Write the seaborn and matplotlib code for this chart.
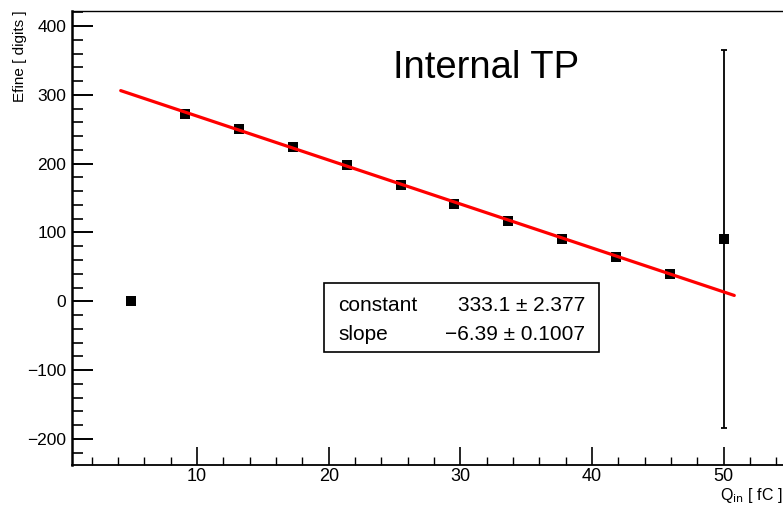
import numpy as np
import pandas as pd
import matplotlib
matplotlib.use("Agg")
import matplotlib.pyplot as plt
import seaborn as sns
from matplotlib.patches import Rectangle
from matplotlib.ticker import MultipleLocator

# data
q_in = [5.0, 9.1, 13.2, 17.3, 21.4, 25.5, 29.5, 33.6, 37.7, 41.8, 45.9, 50.0]
efine = [0, 272, 250, 225, 198, 169, 142, 116, 91, 65, 40, 91]
efine_err = [0, 2, 2, 2, 2, 2, 2, 2, 2, 2, 6, 275]

fit_const = 333.1
fit_const_err = 2.377
fit_slope = -6.39
fit_slope_err = 0.1007
fit_range = [4.2, 50.8]

df = pd.DataFrame({"q": q_in, "e": efine, "err": efine_err})
df_fit = pd.DataFrame({"q": fit_range})
df_fit["e"] = fit_const + fit_slope * df_fit["q"]

sns.set_style("ticks")
plt.rcParams["font.family"] = ["Liberation Sans", "DejaVu Sans"]
plt.rcParams["text.color"] = "black"
plt.rcParams["xtick.color"] = "black"
plt.rcParams["ytick.color"] = "black"
plt.rcParams["axes.edgecolor"] = "black"

W, H = 783, 508
fig = plt.figure(figsize=(W / 100, H / 100), dpi=100)
ax = fig.add_axes([72 / W, 1 - 465 / H, 1 - 72 / W, (465 - 11) / H])

ax.errorbar(df["q"], df["e"], yerr=df["err"], fmt="none", ecolor="black",
            elinewidth=1.3, capsize=2, capthick=1.3, zorder=2)
sns.scatterplot(data=df, x="q", y="e", marker="s", color="black", s=55,
                edgecolor="black", linewidth=0, ax=ax, zorder=3)
sns.lineplot(data=df_fit, x="q", y="e", color="red", linewidth=2.3, ax=ax, zorder=4)

ax.set_xlim(0.5, 54.5)
ax.set_ylim(-238, 422)
ax.set_xlabel("")
ax.set_ylabel("")

ax.xaxis.set_major_locator(MultipleLocator(10))
ax.xaxis.set_minor_locator(MultipleLocator(2))
ax.yaxis.set_major_locator(MultipleLocator(100))
ax.yaxis.set_minor_locator(MultipleLocator(20))
ax.tick_params(axis="x", which="major", direction="in", length=13, width=1.2,
               labelsize=13, pad=2.5, top=False)
ax.tick_params(axis="x", which="minor", direction="in", length=6, width=1.0, top=False)
ax.tick_params(axis="y", which="major", direction="in", length=15, width=1.4,
               labelsize=12.5, pad=4, right=False)
ax.tick_params(axis="y", which="minor", direction="in", length=8, width=1.2, right=False)

ax.spines["right"].set_visible(False)
ax.spines["left"].set_linewidth(1.8)
ax.spines["bottom"].set_linewidth(1.3)
ax.spines["top"].set_linewidth(1.0)

# axis titles, ROOT style
fig.text(0.999, 1 - 486 / H, r"Q$_{\mathrm{in}}$ [ fC ]", ha="right", va="top", fontsize=11.5)
fig.text(20 / W, 1 - 10 / H, "Efine [ digits ]", rotation=90, ha="center", va="top", fontsize=11)

fig.text(393 / W, 1 - 78 / H, "Internal TP", ha="left", va="baseline", fontsize=27.5)

# fit parameter box
box = Rectangle((324 / W, 1 - 351.7 / H), (599.3 - 324) / W, (351.7 - 283.3) / H,
                transform=fig.transFigure, facecolor="white", edgecolor="black",
                linewidth=1.2, zorder=5)
fig.patches.append(box)
fig.text(338 / W, 1 - 311 / H, "constant", ha="left", va="baseline", fontsize=15, zorder=6)
fig.text(338 / W, 1 - 340 / H, "slope", ha="left", va="baseline", fontsize=15, zorder=6)
fig.text(585 / W, 1 - 311 / H, f"{fit_const} \u00b1 {fit_const_err}", ha="right",
         va="baseline", fontsize=15, zorder=6)
fig.text(585 / W, 1 - 340 / H, f"\u2212{abs(fit_slope)} \u00b1 {fit_slope_err}", ha="right",
         va="baseline", fontsize=15, zorder=6)

fig.savefig("out.png", dpi=100)
